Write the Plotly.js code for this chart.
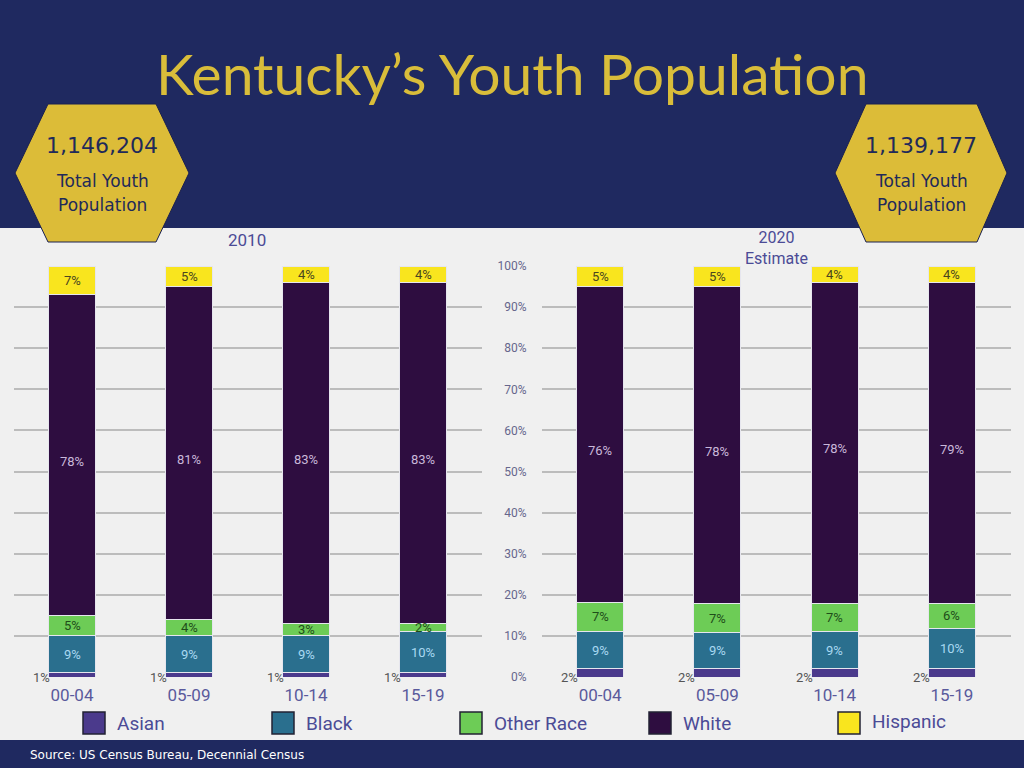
<!DOCTYPE html>
<html>
<head>
<meta charset="utf-8">
<script src="https://cdn.plot.ly/plotly-3.0.1.min.js"></script>
<style>html,body{margin:0;padding:0;background:#f0f0f0}#chart{width:1024px;height:768px}</style>
</head>
<body>
<div id="chart"></div>
<script>
const categories = ['00-04', '05-09', '10-14', '15-19'];
const seriesNames = ['Asian', 'Black', 'Other Race', 'White', 'Hispanic'];
const seriesColors = ['#4b3a8c', '#2a6f8e', '#6dcc56', '#2e0d40', '#f9e51e'];
const labelColors = ['#555555', '#a9d9f2', '#1f4d1a', '#c9b8da', '#4a4520'];

const asian2010 = [1, 1, 1, 1];
const black2010 = [9, 9, 9, 10];
const other2010 = [5, 4, 3, 2];
const white2010 = [78, 81, 83, 83];
const hispanic2010 = [7, 5, 4, 4];

const asian2020 = [2, 2, 2, 2];
const black2020 = [9, 9, 9, 10];
const other2020 = [7, 7, 7, 6];
const white2020 = [76, 78, 78, 79];
const hispanic2020 = [5, 5, 4, 4];

const total2010 = '1,146,204';
const total2020 = '1,139,177';
const yTicks = [0, 10, 20, 30, 40, 50, 60, 70, 80, 90, 100];
const yTickText = yTicks.map(v => v + '%');

const data2010 = [asian2010, black2010, other2010, white2010, hispanic2010];
const data2020 = [asian2020, black2020, other2020, white2020, hispanic2020];

const W = 1024, H = 768;
const px = x => x / W;
const py = y => 1 - y / H;

const traces = [];
const annotations = [];

function addGroup(groupData, xa, ya) {
  groupData.forEach((vals, s) => {
    traces.push({
      type: 'bar', x: categories, y: vals, name: seriesNames[s],
      xaxis: xa, yaxis: ya, width: 0.4, showlegend: false,
      marker: {color: seriesColors[s], line: {color: '#e6e6ee', width: 1}},
      hoverinfo: 'x+name'
    });
  });
  categories.forEach((c, i) => {
    const tot = groupData.reduce((a, v) => a + v[i], 0);
    let cum = 0;
    groupData.forEach((vals, s) => {
      const v = vals[i] / tot * 100;
      const mid = cum + v / 2;
      cum += v;
      const a = {
        xref: xa, yref: ya, x: c, y: mid, text: vals[i] + '%', showarrow: false,
        xanchor: 'center', yanchor: 'middle',
        font: {family: 'Roboto, sans-serif', size: 13, color: labelColors[s]}
      };
      if (s === 0) {
        a.y = 0; a.xanchor = 'right'; a.xshift = -20;
      }
      if (s === 3) { a.yshift = -6; }
      annotations.push(a);
    });
  });
}
addGroup(data2010, 'x', 'y');
addGroup(data2020, 'x2', 'y2');

function paperText(x, y, text, font, xanchor) {
  annotations.push({xref: 'paper', yref: 'paper', x: px(x), y: py(y), text: text, showarrow: false,
    xanchor: xanchor || 'center', yanchor: 'middle', font: font});
}

paperText(512, 73, 'Kentucky\u2019s Youth Population', {family: 'Lato, sans-serif', size: 57, color: '#d9bd3a'});
paperText(247, 240, '2010', {family: 'Roboto, sans-serif', size: 17, color: '#4b4b96'});
paperText(776, 248, '2020<br>Estimate', {family: 'Roboto, sans-serif', size: 16, color: '#4b4b96'});

[[102, total2010], [921, total2020]].forEach(([cx, t]) => {
  paperText(cx, 146, t, {family: 'DejaVu Sans, sans-serif', size: 22, color: '#1f2a5a'});
  paperText(cx, 181, 'Total Youth', {family: 'DejaVu Sans, sans-serif', size: 17, color: '#1f2a5a'});
  paperText(cx, 205, 'Population', {family: 'DejaVu Sans, sans-serif', size: 17, color: '#1f2a5a'});
});

paperText(28, 755, 'Source: US Census Bureau, Decennial Census',
  {family: 'DejaVu Sans, sans-serif', size: 12, color: '#ffffff'}, 'left');

const legendX = [83, 272, 460, 649, 838];
const shapes = [
  {type: 'rect', xref: 'paper', yref: 'paper', x0: 0, x1: 1, y0: py(228), y1: 1, fillcolor: '#1f2960', line: {width: 0}, layer: 'below'},
  {type: 'rect', xref: 'paper', yref: 'paper', x0: 0, x1: 1, y0: 0, y1: py(740), fillcolor: '#1f2960', line: {width: 0}, layer: 'below'}
];
seriesNames.forEach((n, s) => {
  const lx = legendX[s];
  shapes.push({type: 'rect', xref: 'paper', yref: 'paper', x0: px(lx), x1: px(lx + 22), y0: py(734), y1: py(712),
    fillcolor: seriesColors[s], line: {color: '#222233', width: 1.5}});
  paperText(lx + 32, s === 4 ? 721 : 723, n, {family: 'Roboto, sans-serif', size: 19, color: '#4b4b96'}, 'left');
});

function hex(l, tl, tr, r, top, mid, bot) {
  return 'M' + px(tl) + ',' + py(top) + ' L' + px(tr) + ',' + py(top) + ' L' + px(r) + ',' + py(mid) +
    ' L' + px(tr) + ',' + py(bot) + ' L' + px(tl) + ',' + py(bot) + ' L' + px(l) + ',' + py(mid) + ' Z';
}
shapes.push({type: 'path', xref: 'paper', yref: 'paper', path: hex(15, 48, 156, 189, 104, 173, 242),
  fillcolor: '#dcbc38', line: {color: '#1a2050', width: 1}, layer: 'above'});
shapes.push({type: 'path', xref: 'paper', yref: 'paper', path: hex(835, 866, 977, 1007, 104, 173, 242),
  fillcolor: '#dcbc38', line: {color: '#1a2050', width: 1}, layer: 'above'});

const xBase = {type: 'category', categoryorder: 'array', categoryarray: categories, showgrid: false, zeroline: false,
  showline: false, ticks: '', ticklabelstandoff: 6,
  tickfont: {family: 'Roboto, sans-serif', size: 17, color: '#5a5a9c'}, fixedrange: true};
const yBase = {range: [0, 100], tickmode: 'array', tickvals: yTicks, ticktext: yTickText, showgrid: true,
  gridcolor: '#bcbcbc', gridwidth: 2, zeroline: false, showline: false, ticks: '', fixedrange: true};

const layout = {
  width: W, height: H, margin: {l: 0, r: 0, t: 0, b: 0},
  paper_bgcolor: '#f0f0f0', plot_bgcolor: 'rgba(0,0,0,0)',
  barmode: 'stack', barnorm: 'percent', showlegend: false,
  xaxis: Object.assign({}, xBase, {domain: [px(13.5), px(481.5)], anchor: 'y'}),
  xaxis2: Object.assign({}, xBase, {domain: [px(541.5), px(1010.5)], anchor: 'y2'}),
  yaxis: Object.assign({}, yBase, {domain: [py(677), py(266)], anchor: 'x', showticklabels: false}),
  yaxis2: Object.assign({}, yBase, {domain: [py(677), py(266)], anchor: 'x2', showticklabels: true,
    ticklabelstandoff: 14, tickfont: {family: 'Roboto, sans-serif', size: 12, color: '#66668c'}}),
  annotations: annotations,
  shapes: shapes
};

Plotly.newPlot('chart', traces, layout, {staticPlot: true, displayModeBar: false});
</script>
</body>
</html>
